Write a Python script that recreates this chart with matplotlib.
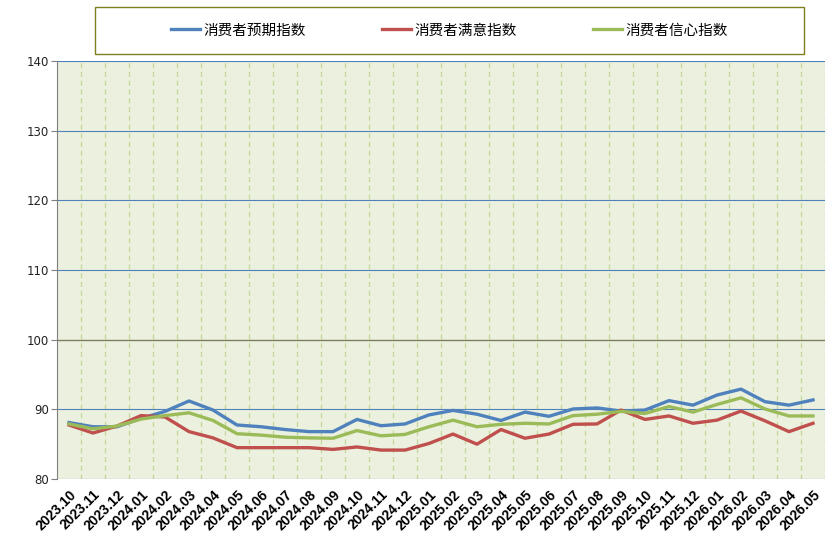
import matplotlib
matplotlib.use('Agg')
import matplotlib.pyplot as plt
from matplotlib.patches import Rectangle

plt.rcParams['font.family'] = ['Noto Sans CJK SC', 'DejaVu Sans']

months = ['2023.10', '2023.11', '2023.12',
          '2024.01', '2024.02', '2024.03', '2024.04', '2024.05', '2024.06',
          '2024.07', '2024.08', '2024.09', '2024.10', '2024.11', '2024.12',
          '2025.01', '2025.02', '2025.03', '2025.04', '2025.05', '2025.06',
          '2025.07', '2025.08', '2025.09', '2025.10', '2025.11', '2025.12',
          '2026.01', '2026.02', '2026.03', '2026.04', '2026.05']

expectation = [88.1, 87.5, 87.5, 88.7, 89.7, 91.2, 89.9, 87.75, 87.5, 87.1,
               86.8, 86.8, 88.55, 87.65, 87.9, 89.2, 89.85, 89.3, 88.4, 89.6,
               89.0, 90.05, 90.2, 89.75, 89.9, 91.25, 90.6, 92.05, 92.9, 91.1,
               90.6, 91.35]
satisfaction = [87.75, 86.6, 87.6, 89.1, 88.9, 86.8, 85.9, 84.5, 84.5, 84.5,
                84.5, 84.25, 84.6, 84.15, 84.15, 85.1, 86.45, 85.0, 87.1, 85.85,
                86.45, 87.85, 87.9, 89.9, 88.55, 89.05, 88.0, 88.45, 89.75, 88.35,
                86.8, 88.0]
confidence = [87.9, 87.2, 87.6, 88.6, 89.1, 89.5, 88.4, 86.5, 86.3, 86.0,
              85.9, 85.85, 86.95, 86.2, 86.4, 87.5, 88.45, 87.5, 87.85, 88.0,
              87.9, 89.1, 89.3, 89.7, 89.4, 90.4, 89.6, 90.7, 91.65, 90.05,
              89.05, 89.05]

series = [
    ('消费者预期指数', expectation, '#4F81BD'),
    ('消费者满意指数', satisfaction, '#C0504D'),
    ('消费者信心指数', confidence, '#9BBB59'),
]

fig = plt.figure(figsize=(8.37, 5.4), dpi=100)
ax = fig.add_axes([57 / 837, 1 - 479 / 540, 768 / 837, 418 / 540])
ax.set_facecolor('#EBF1DE')

x = list(range(len(months)))

# category boundary dashes
for b in range(1, len(months) + 1):
    ax.axvline(b - 0.5, color='#C3D69B', lw=0.9, ls=(0, (4, 3)), zorder=1)

# horizontal grid
for v in [80, 90, 110, 120, 130, 140]:
    ax.axhline(v, color='#4F81BD', lw=0.8, zorder=1)
ax.axhline(100, color='#7F7F5F', lw=1.0, zorder=1)

handles = []
for name, vals, col in series:
    h, = ax.plot(x, vals, color=col, lw=2.4, label=name, zorder=3,
                 solid_joinstyle='round')
    handles.append(h)

ax.set_xlim(-0.5, len(months) - 0.5)
ax.set_ylim(80, 140)
ax.set_yticks([80, 90, 100, 110, 120, 130, 140])
ax.set_yticklabels(['80', '90', '100', '110', '120', '130', '140'],
                   family='DejaVu Sans', fontsize=8.5, color='#222222')
ax.set_xticks(x)
ax.set_xticklabels(months, rotation=45, ha='right', rotation_mode='anchor',
                   family='Liberation Sans', fontweight='bold', fontsize=10)
ax.tick_params(axis='x', length=0, pad=6)
ax.tick_params(axis='y', length=4, color='#808080', pad=2)

for side in ['top', 'right']:
    ax.spines[side].set_visible(False)
ax.spines['bottom'].set_visible(False)
ax.spines['left'].set_color('#808080')

# legend box
fig.patches.append(Rectangle((95 / 837, 1 - 54 / 540), 709 / 837, 47 / 540,
                             transform=fig.transFigure, fill=False,
                             edgecolor='#7F7F20', lw=1.0))
fig.legend(handles=handles, loc='center', ncol=3, frameon=False,
           bbox_to_anchor=(449.5 / 837, 1 - 30.5 / 540),
           fontsize=10.5, handlelength=2.0, handletextpad=0.25,
           columnspacing=5.2)

fig.savefig('out.png', dpi=100)
